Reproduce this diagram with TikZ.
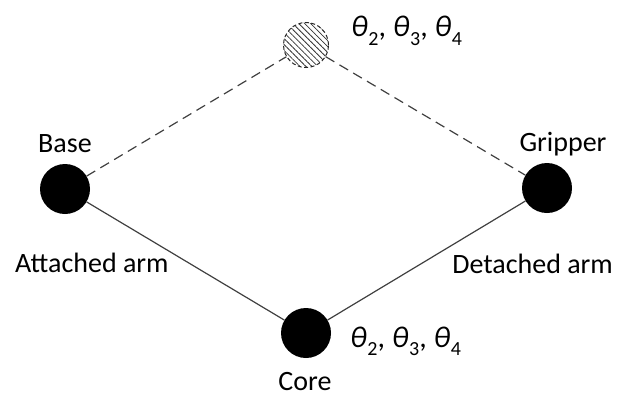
\documentclass[tikz,border=0pt]{standalone}
\usepackage{fontspec}
\setmainfont{Carlito}
\usetikzlibrary{patterns.meta}
% joint angle symbol: italic theta with an upright lowered index
\newcommand\jointang[1]{\textit{θ}\kern0.5pt\raisebox{-0.28em}{\fontsize{20}{22}\selectfont #1}}
\begin{document}
\begin{tikzpicture}[x=1pt,y=-1pt,
  joint/.style={circle,fill=black,minimum size=50pt,inner sep=0pt},
  ghost/.style={circle,draw=black!85,line width=1pt,dash pattern=on 4pt off 2.5pt,
    pattern={Lines[angle=-45,distance=4.2pt,line width=0.8pt]},pattern color=black!80,
    minimum size=45pt,inner sep=0pt},
  lbl/.style={font=\fontsize{28}{32}\selectfont,inner sep=0pt},
  ang/.style={font=\fontsize{30}{34}\selectfont,inner sep=0pt},
  rod/.style={draw=black!75,line width=1.2pt},
  link/.style={rod,dash pattern=on 10pt off 6pt}]
\useasboundingbox (0,0) rectangle (617,396);
\node[joint] (base) at (65,189) {};
\node[joint] (grip) at (547,188) {};
\node[joint] (core) at (306,333) {};
\node[ghost] (top) at (306,45) {};
\draw[link] (base) -- (top);
\draw[link] (top) -- (grip);
\draw[rod] (base) -- (core);
\draw[rod] (core) -- (grip);
\node[lbl,anchor=base] (tb) at (65,152) {Base};
\node[lbl,anchor=base] (tg) at (563,151) {Gripper};
\node[lbl,anchor=base west] (ta) at (15,272) {Attached arm};
\node[lbl,anchor=base east] (td) at (613,273) {Detached arm};
\node[lbl,anchor=base] (tc) at (305,390) {Core};
\node[ang,anchor=base west] (qt) at (351,37) {\jointang{2}, \jointang{3}, \jointang{4}};
\node[ang,anchor=base west] (qc) at (350,347) {\jointang{2}, \jointang{3}, \jointang{4}};
\end{tikzpicture}
\end{document}
